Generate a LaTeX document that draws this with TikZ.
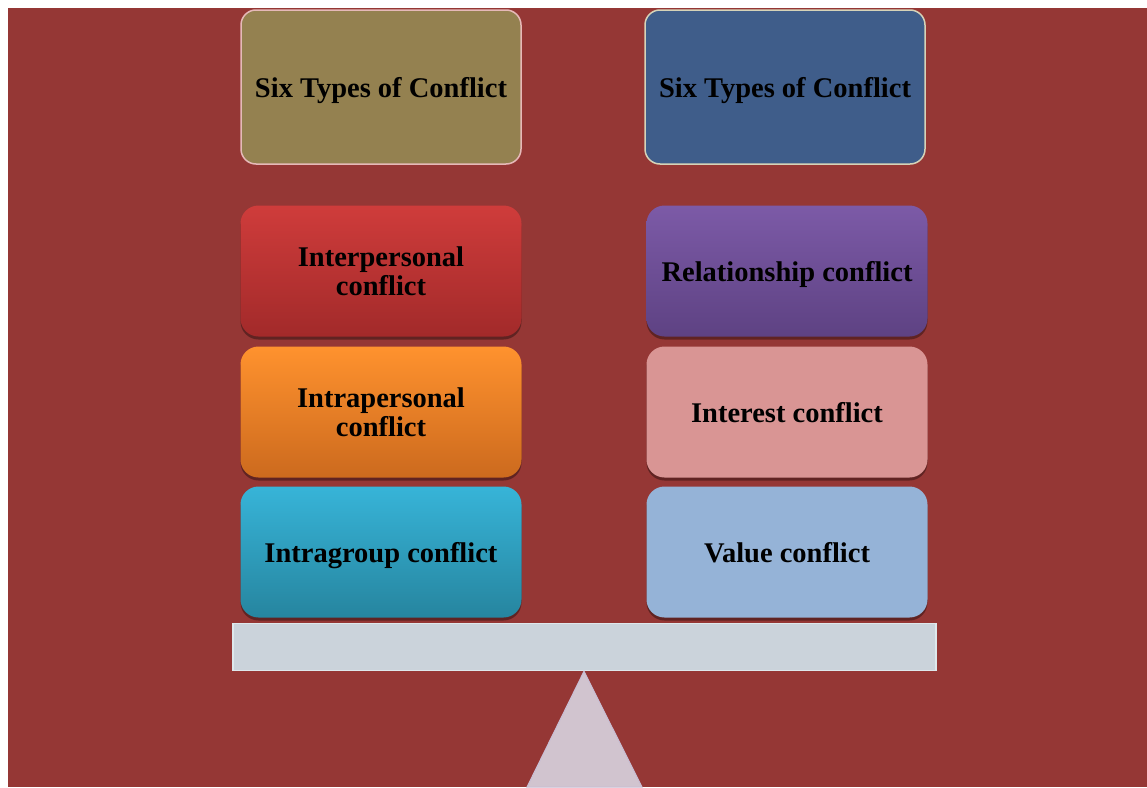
\documentclass[tikz,border=0pt]{standalone}
\usepackage{fontspec}
\setmainfont{Liberation Serif}
\usetikzlibrary{shadows}

\definecolor{bgred}{HTML}{953735}
\definecolor{olivebox}{HTML}{948150}
\definecolor{bluebox}{HTML}{3F5D8A}
\definecolor{redtop}{HTML}{CF3C3B}
\definecolor{redbot}{HTML}{A22A2A}
\definecolor{orangetop}{HTML}{FF922E}
\definecolor{orangebot}{HTML}{CC6A1E}
\definecolor{cyantop}{HTML}{37B4D8}
\definecolor{cyanbot}{HTML}{26859F}
\definecolor{purpletop}{HTML}{7C5AA7}
\definecolor{purplebot}{HTML}{5E4283}
\definecolor{pinkbox}{HTML}{D99594}
\definecolor{paleblue}{HTML}{95B3D7}
\definecolor{beamgray}{HTML}{CBD3DB}
\definecolor{fulcrum}{HTML}{D1C4CF}

\begin{document}
\begin{tikzpicture}[x=1pt, y=-1pt,
    headbox/.style={rounded corners=15pt, minimum width=280pt, minimum height=154pt,
        line width=1.5pt, align=center, text depth=0pt,
        font=\fontsize{28.5}{29}\selectfont\bfseries},
    typebox/.style={rounded corners=18pt, minimum width=281pt, minimum height=131pt,
        align=center, text depth=0pt, font=\fontsize{28.5}{29}\selectfont\bfseries,
        drop shadow={shadow xshift=0pt, shadow yshift=-3pt, opacity=0.35, fill=black}}]

    \useasboundingbox (0,0) rectangle (1147,787);

    % fond
    \fill[bgred] (8,8) rectangle (1147,787);

    % --------------------------
    % titres
    % --------------------------
    \node[headbox, fill=olivebox, draw={rgb,255:red,230;green,185;blue,184}] (typesL) at (381,87) {Six Types of Conflict};
    \node[headbox, fill=bluebox, draw={rgb,255:red,214;green,211;blue,184}] (typesR) at (785,87) {Six Types of Conflict};

    % --------------------------
    % colonne gauche
    % --------------------------
    \node[typebox, top color=redtop, bottom color=redbot] (inter) at (381,271) {Interpersonal\\conflict};
    \node[typebox, top color=orangetop, bottom color=orangebot] (intra) at (381,412) {Intrapersonal\\conflict};
    \node[typebox, top color=cyantop, bottom color=cyanbot] (group) at (381,552) {Intragroup conflict};

    % --------------------------
    % colonne droite
    % --------------------------
    \node[typebox, top color=purpletop, bottom color=purplebot] (relation) at (787,271) {Relationship conflict};
    \node[typebox, fill=pinkbox] (interest) at (787,412) {Interest conflict};
    \node[typebox, fill=paleblue] (value) at (787,552) {Value conflict};

    % --------------------------
    % balance
    % --------------------------
    \node[fill=beamgray, draw={rgb,255:red,222;green,232;blue,236}, line width=1.5pt,
        minimum width=703pt, minimum height=47pt, inner sep=0pt] (beam) at (584.5,647) {};
    \filldraw[fill=fulcrum, draw={rgb,255:red,200;green,190;blue,212}, line width=1pt]
        (beam.south -| 584,0) -- (527,787) -- (642,787) -- cycle;

\end{tikzpicture}
\end{document}
